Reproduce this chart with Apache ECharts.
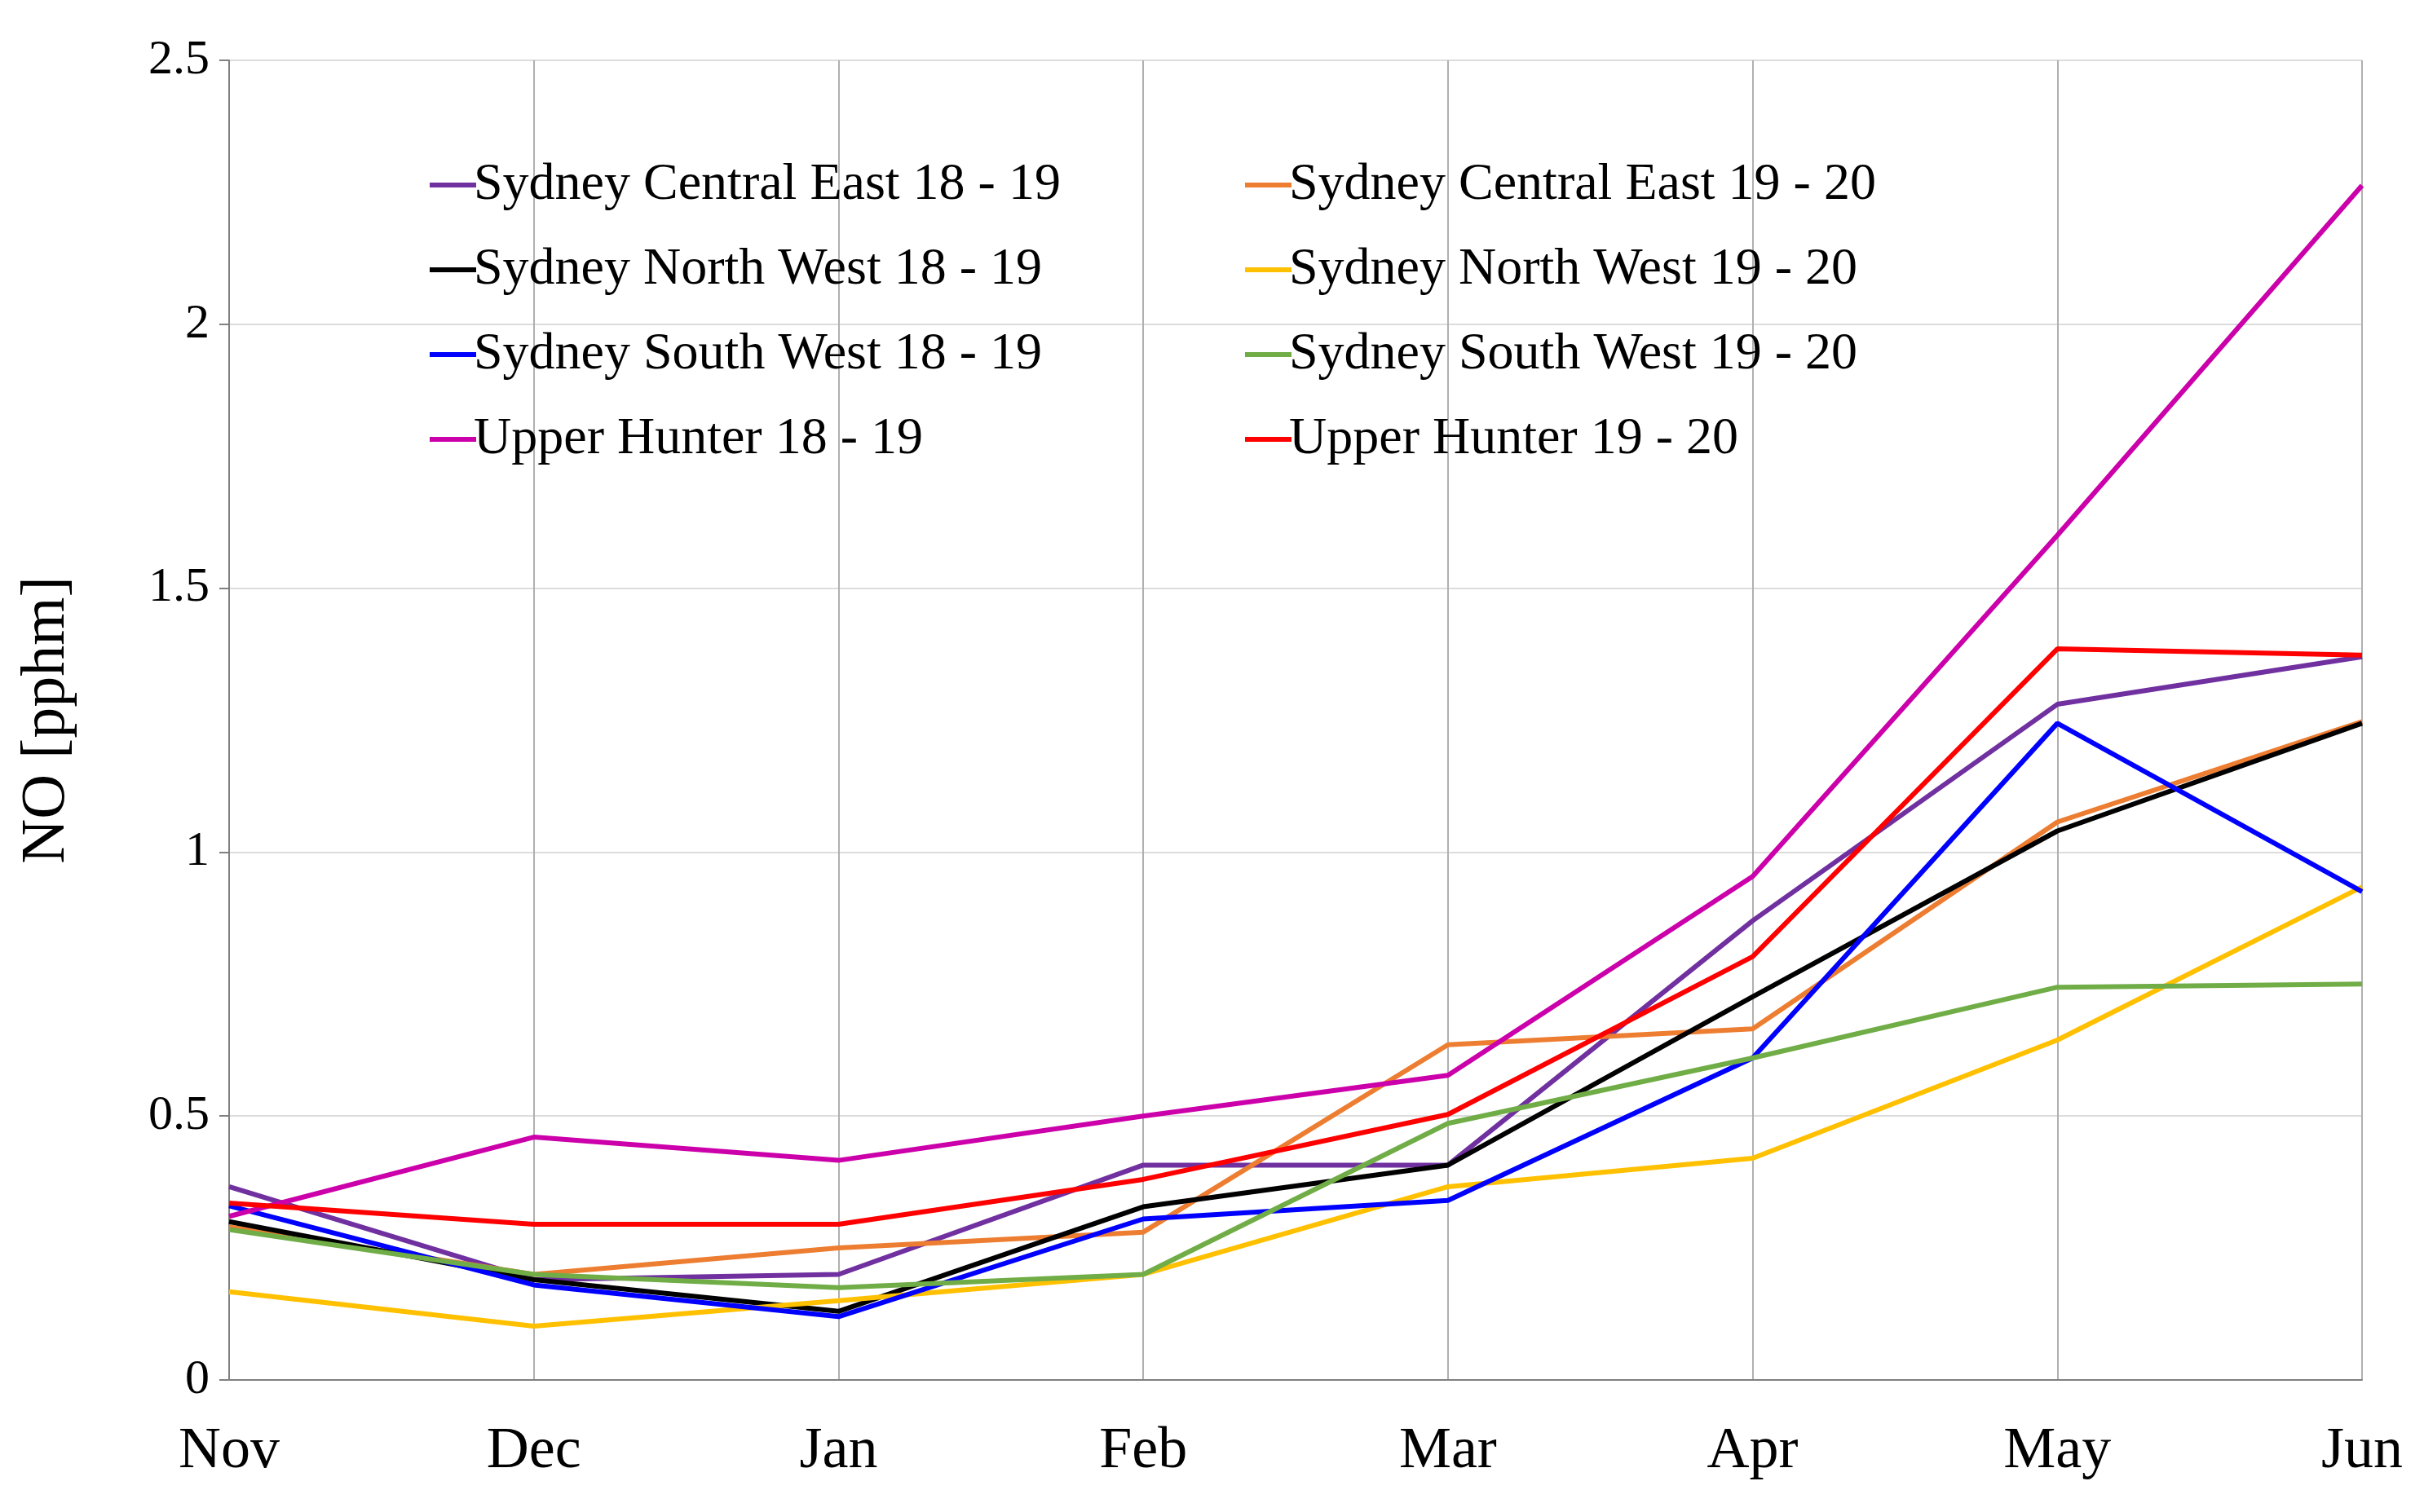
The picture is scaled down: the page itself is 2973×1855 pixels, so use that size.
<!DOCTYPE html>
<html><head><meta charset="utf-8">
<script src="https://cdn.jsdelivr.net/npm/echarts@6/dist/echarts.min.js"></script>
<style>html,body{margin:0;padding:0;background:#fff}#c{width:2973px;height:1855px}</style>
</head><body><div id="c"></div>
<script>
const months = ['Nov','Dec','Jan','Feb','Mar','Apr','May','Jun'];
const yTicks = ['0','0.5','1','1.5','2','2.5'];
const names = ['Sydney Central East 18 - 19','Sydney Central East 19 - 20','Sydney North West 18 - 19','Sydney North West 19 - 20','Sydney South West 18 - 19','Sydney South West 19 - 20','Upper Hunter 18 - 19','Upper Hunter 19 - 20'];
const colors = ['#7030a0','#ed7d31','#000000','#ffc000','#0000ff','#70ad47','#cc00aa','#ff0000'];
const sce1819 = [0.366,0.19,0.2,0.407,0.407,0.87,1.28,1.37];
const sce1920 = [0.29,0.2,0.25,0.28,0.635,0.665,1.057,1.247];
const snw1819 = [0.3,0.19,0.13,0.328,0.407,0.726,1.04,1.244];
const snw1920 = [0.167,0.102,0.15,0.2,0.366,0.42,0.644,0.934];
const ssw1819 = [0.33,0.18,0.12,0.305,0.34,0.61,1.244,0.925];
const ssw1920 = [0.285,0.2,0.175,0.2,0.486,0.61,0.744,0.75];
const uh1819 = [0.31,0.46,0.416,0.5,0.577,0.954,1.6,2.263];
const uh1920 = [0.335,0.295,0.295,0.38,0.503,0.802,1.385,1.373];
const data = [sce1819,sce1920,snw1819,snw1920,ssw1819,ssw1920,uh1819,uh1920];
const font = 'Liberation Serif';
const legendCommon = {orient:'vertical',itemWidth:57,itemHeight:6,icon:'rect',itemGap:40,
  textStyle:{fontFamily:font,fontSize:64,color:'#000',padding:[0,0,0,-8]}};
const chart = echarts.init(document.getElementById('c'));
chart.setOption({
  animation:false,
  color:colors,
  legend:[
    Object.assign({left:522,top:190,data:names.filter((n,i)=>i%2===0)},legendCommon),
    Object.assign({left:1522,top:190,data:names.filter((n,i)=>i%2===1)},legendCommon)
  ],
  grid:{left:281,right:76,top:74,bottom:162},
  xAxis:{type:'category',data:months,boundaryGap:false,
    axisLine:{lineStyle:{color:'#808080',width:2}},axisTick:{show:false},
    axisLabel:{fontFamily:font,fontSize:72,color:'#000',margin:52},
    splitLine:{show:true,lineStyle:{color:'#b0b0b0',width:2}}},
  yAxis:{type:'value',min:0,max:2.5,interval:0.5,
    name:'NO [pphm]',nameLocation:'middle',nameGap:185,
    nameTextStyle:{fontFamily:font,fontSize:76,color:'#000'},
    axisLine:{show:true,lineStyle:{color:'#808080',width:2}},
    axisTick:{show:true,length:12,lineStyle:{color:'#808080',width:2}},
    axisLabel:{fontFamily:font,fontSize:60,color:'#000',margin:24,formatter:v=>yTicks[Math.round(v*2)]},
    splitLine:{lineStyle:{color:'#dcdcdc',width:2}}},
  series:names.map((n,i)=>({name:n,type:'line',data:data[i],symbol:'none',lineStyle:{width:6,color:colors[i]},itemStyle:{color:colors[i]}}))
});
</script></body></html>
